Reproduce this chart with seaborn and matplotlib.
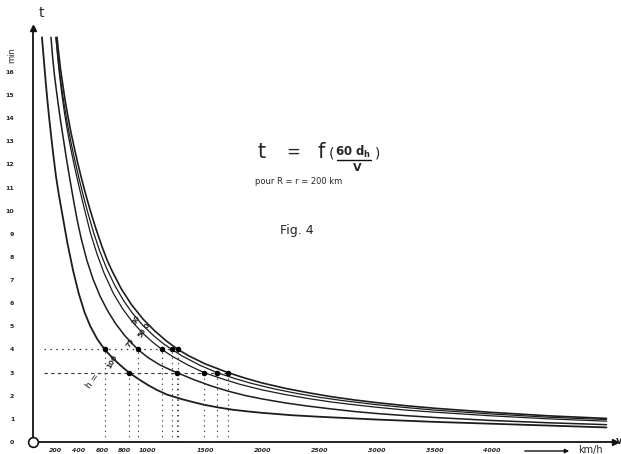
import matplotlib
matplotlib.use("Agg")
import matplotlib.pyplot as plt
from matplotlib.ticker import MultipleLocator
import numpy as np
import pandas as pd
import seaborn as sns

# ---------------- data ----------------
h_labels = ["100", "75", "50", "30", "0"]

v_h100 = [78, 90, 100, 112, 125, 137, 150, 175, 200, 225, 250, 275, 300, 325, 350, 375, 400, 450, 500, 560,
          625, 700, 770, 837, 920, 1000, 1080, 1168, 1300, 1400, 1491, 1620, 1750, 1875, 2000, 2250, 2500,
          2750, 3000, 3500, 4000, 4500, 5000]
t_h100 = [17.5, 16.8, 16.2, 15.5, 14.8, 14.2, 13.6, 12.5, 11.5, 10.7, 10.0, 9.3, 8.6, 8.0, 7.4, 6.9, 6.4, 5.6, 5.0, 4.45,
          4.0, 3.6, 3.28, 3.0, 2.72, 2.47, 2.25, 2.05, 1.85, 1.72, 1.61, 1.49, 1.39, 1.32, 1.26, 1.16, 1.09,
          1.03, 0.97, 0.87, 0.79, 0.71, 0.63]

v_h75 = [157, 170, 185, 200, 220, 240, 265, 290, 320, 350, 385, 420, 470, 523, 585, 650, 720, 800, 860, 915,
         1000, 1100, 1180, 1255, 1400, 1550, 1700, 1850, 2000, 2200, 2400, 2600, 2800, 3000, 3250, 3500, 4000,
         4500, 5000]
t_h75 = [17.5, 16.7, 15.95, 15.35, 14.6, 13.9, 13.1, 12.3, 11.4, 10.55, 9.6, 8.8, 7.85, 7.05, 6.3, 5.68, 5.12, 4.6, 4.28, 4.0,
         3.66, 3.35, 3.16, 3.0, 2.7, 2.43, 2.2, 2.01, 1.86, 1.69, 1.55, 1.43, 1.32, 1.23, 1.14, 1.06, 0.93,
         0.83, 0.75]

v_h50 = [200, 215, 230, 250, 275, 300, 330, 360, 400, 450, 500, 560, 620, 700, 780, 870, 960, 1040, 1124, 1220,
         1350, 1491, 1650, 1800, 2000, 2200, 2400, 2600, 2800, 3000, 3250, 3500, 4000, 4500, 5000]
t_h50 = [17.5, 16.66, 15.93, 15.09, 14.21, 13.46, 12.67, 11.95, 11.07, 10.04, 9.05, 8.1, 7.3, 6.43, 5.77, 5.17, 4.69, 4.33, 4.0, 3.69,
         3.33, 3.0, 2.73, 2.5, 2.25, 2.05, 1.88, 1.73, 1.61, 1.5, 1.38, 1.29, 1.13, 1.0, 0.9]

v_h30 = [200, 215, 230, 250, 275, 300, 330, 360, 400, 440, 480, 530, 580, 640, 710, 790, 870, 960, 1060, 1140,
         1212, 1300, 1450, 1604, 1750, 1900, 2100, 2300, 2500, 2700, 3000, 3250, 3500, 4000, 4500, 5000]
t_h30 = [17.5, 16.75, 16.09, 15.31, 14.49, 13.76, 12.98, 12.28, 11.42, 10.62, 9.88, 9.03, 8.28, 7.53, 6.8, 6.11, 5.55, 5.03, 4.56, 4.24,
         4.0, 3.72, 3.33, 3.0, 2.76, 2.54, 2.3, 2.1, 1.93, 1.79, 1.61, 1.49, 1.38, 1.21, 1.07, 0.97]

v_h0 = [209, 222, 240, 260, 280, 305, 330, 360, 390, 415, 440, 470, 500, 550, 600, 645, 690, 770, 860, 960,
        1060, 1160, 1264, 1360, 1500, 1700, 1850, 2000, 2200, 2400, 2600, 2800, 3000, 3250, 3500, 4000, 4500, 5000]
t_h0 = [17.5, 16.9, 16.12, 15.44, 14.77, 14.07, 13.41, 12.72, 12.06, 11.55, 11.07, 10.52, 10.0, 9.2, 8.47, 7.88, 7.39, 6.62, 5.93, 5.31,
        4.81, 4.38, 4.0, 3.72, 3.38, 3.0, 2.76, 2.55, 2.32, 2.13, 1.96, 1.82, 1.7, 1.57, 1.46, 1.28, 1.13, 1.02]

# marked points at t = 4 and t = 3
dots_v_t4 = [625, 915, 1124, 1212, 1264]
dots_v_t3 = [837, 1255, 1491, 1604, 1700]
t_ref_4 = 4
t_ref_3 = 3

x_tick_values = [200, 400, 600, 800, 1000, 1500, 2000, 2500, 3000, 3500, 4000]
x_tick_labels = ["200", "400", "600", "800", "1000", "1500", "2000", "2500", "3000", "3500", "4000"]
y_tick_values = list(range(0, 17))
y_tick_labels = [str(i) for i in y_tick_values]

# ---------------- figure ----------------
sns.set_theme(style="white")
plt.rcParams["font.family"] = ["DejaVu Sans"]

W, H = 621, 454
fig = plt.figure(figsize=(W / 100, H / 100), dpi=100)
fig.patch.set_facecolor("white")

def fx(px):
    return px / W

def fy(py):
    return 1 - py / H

XMAX, YMAX = 5070, 17.9
ax = fig.add_axes([fx(33), 12 / H, 581.5 / W, 414 / H])
ax.set_facecolor("white")

curves = [(v_h100, t_h100), (v_h75, t_h75), (v_h50, t_h50), (v_h30, t_h30), (v_h0, t_h0)]
frames = []
for lab, (vv, tt) in zip(h_labels, curves):
    frames.append(pd.DataFrame({"v": vv, "t": tt, "h": lab}))
df = pd.concat(frames, ignore_index=True)

line_w = {"100": 1.3, "75": 1.1, "50": 0.9, "30": 0.9, "0": 1.2}
for lab in h_labels:
    sub = df[df["h"] == lab]
    sns.lineplot(data=sub, x="v", y="t", sort=False, estimator=None,
                 color="#1c1c1c", lw=line_w[lab], ax=ax, legend=False)

# reference lines
ax.plot([100, max(dots_v_t4)], [t_ref_4, t_ref_4], ls=(0, (1.2, 3.5)), lw=0.9, color="#333333")
ax.plot([100, max(dots_v_t3)], [t_ref_3, t_ref_3], ls=(0, (3, 3)), lw=0.8, color="#333333")
for v in dots_v_t4:
    ax.plot([v, v], [0, t_ref_4], ls=(0, (1.2, 3.5)), lw=0.8, color="#444444")
for v in dots_v_t3:
    ax.plot([v, v], [0, t_ref_3], ls=(0, (1.2, 3.5)), lw=0.8, color="#444444")

dots = pd.DataFrame({"v": dots_v_t4 + dots_v_t3,
                     "t": [t_ref_4] * len(dots_v_t4) + [t_ref_3] * len(dots_v_t3)})
sns.scatterplot(data=dots, x="v", y="t", s=16, color="black", edgecolor="black",
                linewidth=0, ax=ax, zorder=6, legend=False)

# axes
ax.set_xlim(0, XMAX)
ax.set_ylim(0, YMAX)
for s in ["top", "right"]:
    ax.spines[s].set_visible(False)
for s in ["left", "bottom"]:
    ax.spines[s].set_color("#111111")
    ax.spines[s].set_linewidth(1.3)

ax.set_xticks(x_tick_values)
ax.set_xticklabels(x_tick_labels, fontsize=4.5, fontstyle="italic", fontweight="bold")
ax.xaxis.set_minor_locator(MultipleLocator(100))
ax.set_yticks(y_tick_values)
ax.set_yticklabels(y_tick_labels, fontsize=4.5, fontweight="bold")
ax.tick_params(axis="both", which="major", direction="inout", length=5, width=0.9, color="#111111")
ax.tick_params(axis="both", which="minor", direction="inout", length=3, width=0.7, color="#111111")
ax.tick_params(axis="x", which="major", pad=2)
ax.tick_params(axis="y", which="major", pad=11)
ax.set_xlabel("")
ax.set_ylabel("")

ax.plot(XMAX, 0, marker=">", ms=5, color="#111111", clip_on=False, zorder=8)
ax.plot(0, YMAX, marker="^", ms=5, color="#111111", clip_on=False, zorder=8)
ax.plot(0, 0, marker="o", ms=7, mfc="white", mec="#111111", mew=1.2, clip_on=False, zorder=10)

# axis names
fig.text(fx(41), fy(13), "t", fontsize=10, ha="center", va="center")
fig.text(fx(12), fy(55), "min", fontsize=6, rotation=90, ha="center", va="center")
fig.text(fx(619), fy(441), "v", fontsize=7, ha="center", va="center", fontweight="bold")
fig.add_artist(matplotlib.patches.FancyArrowPatch((fx(522), fy(451)), (fx(572), fy(451)),
               transform=fig.transFigure, arrowstyle="-|>", mutation_scale=6, lw=1.0, color="#111111"))
fig.text(fx(590), fy(450), "km/h", fontsize=7, ha="center", va="center")

# title formula
fig.text(fx(262), fy(152), "t", fontsize=15, ha="center", va="center")
fig.text(fx(293), fy(152), "=", fontsize=12, ha="center", va="center")
fig.text(fx(321), fy(152), "f", fontsize=15, ha="center", va="center")
fig.text(fx(332), fy(153), "(", fontsize=10, ha="center", va="center")
fig.text(fx(353), fy(152), r"60 d$_{\mathregular{h}}$", fontsize=8.5, ha="center", va="center", fontweight="bold")
fig.text(fx(378), fy(153), ")", fontsize=10, ha="center", va="center")
fig.add_artist(matplotlib.lines.Line2D([fx(337), fx(371)], [fy(160), fy(160)], lw=1.0, color="#111111"))
fig.text(fx(357), fy(168), "V", fontsize=8, ha="center", va="center", fontweight="bold")
fig.text(fx(299), fy(182), "pour R = r = 200 km", fontsize=6, ha="center", va="center")
fig.text(fx(297), fy(230), "Fig. 4", fontsize=9, ha="center", va="center")

# curve labels
fig.text(fx(93), fy(381), "h =", fontsize=6.5, rotation=55, ha="center", va="center")
lab_pos = [(112, 362), (130, 343), (142, 333), (136, 320), (147, 326)]
for lab, (px, py) in zip(h_labels, lab_pos):
    fig.text(fx(px), fy(py), lab, fontsize=5, rotation=60, ha="center", va="center", fontweight="bold")

fig.savefig("out.png", dpi=100, facecolor="white")
